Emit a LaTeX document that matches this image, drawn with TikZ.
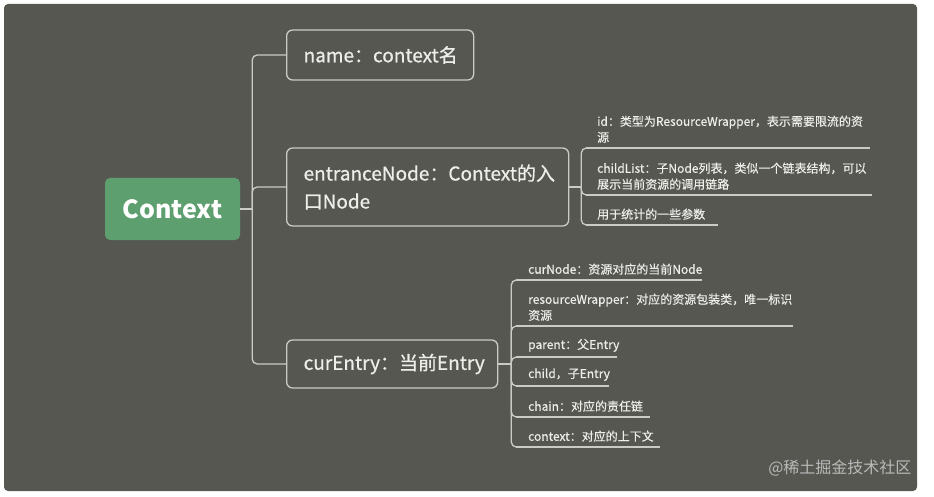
\documentclass[tikz,border=0pt]{standalone}
\usepackage{fontspec}
\setmainfont{Noto Sans CJK SC}
\newfontfamily\topicfont{Noto Sans CJK SC}[FakeBold=0.7]
\newfontfamily\leaffont{Noto Sans CJK SC}[FakeBold=0.35]
\usetikzlibrary{positioning}
\definecolor{panel}{HTML}{575752}
\definecolor{rootgreen}{HTML}{5E9F70}
\definecolor{txt}{HTML}{EDEDEA}
\definecolor{wire}{HTML}{CBCBC6}

\begin{document}
\begin{tikzpicture}[
    x=1pt, y=-1pt,
    wire/.style={draw=wire, line width=1.3pt, rounded corners=5pt},
    topic/.style={draw=wire, line width=1.3pt, rounded corners=6pt, text=txt, align=left,
        inner xsep=17pt, anchor=west, font=\topicfont\fontsize{19}{28}\selectfont},
    leaf/.style={anchor=south west, text=txt, align=left, inner ysep=5pt,
        font=\leaffont\fontsize{12}{16}\selectfont}
]
    \useasboundingbox (0,0) rectangle (934,497);
    \fill[panel, rounded corners=4pt] (4,4) rectangle (917,491);

    % root and first level
    \node[fill=rootgreen, rounded corners=5pt, minimum width=135pt, minimum height=62pt, text=white,
        font=\fontsize{25}{28}\selectfont\bfseries] (context) at (172.5,209) {Context};
    \node[topic, text width=153pt, minimum height=50pt] (name) at (286,55) {name：context名};
    \node[topic, text width=248pt, minimum height=78pt] (entrance) at (286,187) {entranceNode：Context的入\\口Node};
    \node[topic, text width=177pt, minimum height=48pt] (curentry) at (286,364) {curEntry：当前Entry};

    \coordinate[right=12pt of context] (mbr);
    \coordinate[right=12pt of entrance] (ebr);
    \coordinate[right=13pt of curentry] (cbr);

    % entranceNode leaves
    \node[leaf, inner xsep=11pt, text width=262pt] (id) at (586,148) {id：类型为ResourceWrapper，表示需要限流的资\\源};
    \node[leaf, inner xsep=11pt, text width=264pt] (childlist) at (586,195) {childList：子Node列表，类似一个链表结构，可以\\展示当前资源的调用链路};
    \node[leaf, inner xsep=11pt, text width=110pt] (stats) at (586,225) {用于统计的一些参数};

    % curEntry leaves
    \node[leaf, inner xsep=12pt, text width=162pt] (curnode) at (516,280) {curNode：资源对应的当前Node};
    \node[leaf, inner xsep=12pt, text width=253pt] (wrapper) at (516,326) {resourceWrapper：对应的资源包装类，唯一标识\\资源};
    \node[leaf, inner xsep=12pt, text width=77pt] (parent) at (516,357) {parent：父Entry};
    \node[leaf, inner xsep=12pt, text width=69pt] (child) at (516,386) {child，子Entry};
    \node[leaf, inner xsep=12pt, text width=110pt] (chain) at (516,417) {chain：对应的责任链};
    \node[leaf, inner xsep=12pt, text width=120pt] (ctx) at (516,447) {context：对应的上下文};

    \foreach \n in {id,childlist,stats,curnode,wrapper,parent,child,chain,ctx}
        \draw[wire] (\n.south west) -- (\n.south east);

    % connectors
    \draw[wire] (context) -- (mbr);
    \foreach \n in {name,entrance,curentry}
        \draw[wire] (mbr) |- (\n.west);
    \draw[wire] (entrance) -- (ebr);
    \foreach \n in {id,childlist,stats}
        \draw[wire] (ebr) |- (\n.south west);
    \draw[wire] (curentry) -- (cbr);
    \foreach \n in {curnode,wrapper,parent,child,chain,ctx}
        \draw[wire] (cbr) |- (\n.south west);

    \node[anchor=east, text=gray!55!white, font=\fontsize{16}{20}\selectfont] (mark) at (915,468) {@稀土掘金技术社区};
\end{tikzpicture}
\end{document}
